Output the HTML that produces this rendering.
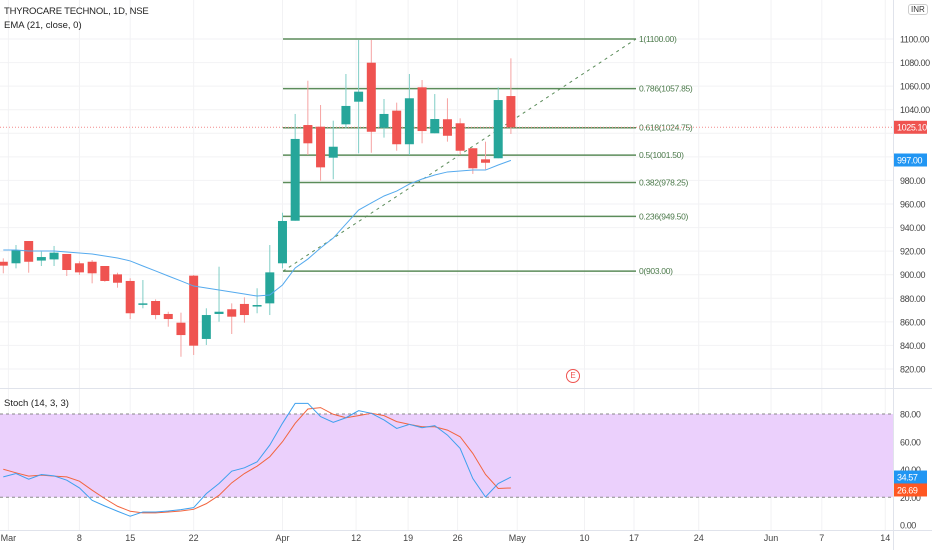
<!DOCTYPE html>
<html><head><meta charset="utf-8"><style>
body{margin:0;background:#fff;width:932px;height:550px;overflow:hidden;font-family:"Liberation Sans",sans-serif}
svg text{font-family:"Liberation Sans",sans-serif}
</style></head><body>
<svg id="c" width="932" height="550" xmlns="http://www.w3.org/2000/svg"></svg>
<script>
const opens=[911.0,909.7,928.6,912,913,917.6,909.7,911,907.4,900.3,894.7,874.5,877.7,866.7,859.3,899.2,845.5,866.7,870.7,875.2,873,875.7,909.7,945.8,1027.0,1025.6,999.3,1027.6,1046.8,1079.9,1024.7,1039.2,1010.7,1059.0,1020.0,1031.9,1028.5,1007.3,997.9,998.8,1051.6];
const closes=[907.7,921.0,911.0,915,918.7,904.0,902.0,901.2,894.7,893.2,867.3,875.7,865.8,862.4,848.8,839.8,865.8,868.6,864.4,865.8,874.3,902.0,945.6,1015.2,1011.5,991.1,1008.6,1043.2,1055.3,1021.3,1036.4,1010.7,1049.7,1021.9,1032.1,1017.9,1005.2,990.3,995.0,1048.2,1025.1];
const highs=[913.9,925.2,928.6,919.6,924.4,917.6,911.4,912.5,907.4,901.7,897.0,895.5,879.1,868.6,867.8,899.8,871.5,906.8,875.7,880.8,888.5,925.2,952.6,1036.4,1064.6,1044.0,1030.7,1070.3,1099.2,1099.2,1049.1,1046.0,1070.3,1065.2,1053.3,1049.7,1032.7,1007.3,1012.9,1059.0,1083.6];
const lows=[901.2,905.4,901.7,907.4,907.4,898.9,899.8,892.7,894.0,889.0,862.4,871.5,862.2,855.9,830.4,831.9,840.4,860.1,849.7,859.3,867.3,865.8,905.4,945.8,1001.6,979.8,981.0,1024.2,1003.0,1003.5,1016.3,1005.2,1001.6,1011.5,1020.0,1012.9,1001.6,985.5,989.4,998.8,1019.4];
const ema=[921,921,920.1,920.1,920.1,919.3,918.4,917.6,915.9,914.2,911.7,907.4,903.2,898.9,894.7,890.4,888.7,887.0,885.3,883.6,881.9,882.8,891.3,905.7,913.3,922.7,931.1,943.0,954.9,960.9,966.8,971.0,976.9,981.2,984.6,987.2,988.0,988.8,988.8,993.1,997.0];
const stochK=[34.7,37.1,33,36.4,35.4,32.3,26.7,17.8,13.7,9.9,6.3,9.4,9.4,10.1,11.1,12.5,22.6,29.9,38.8,41.2,45.5,57.6,73.3,87.7,87.7,78.1,74,77.3,82.4,80.5,75.7,69.6,72.5,70.1,71.6,64.8,55.2,33.5,20.2,29.9,34.57];
const stochD=[40.2,37.6,35.2,35.9,35.2,34.7,31.6,25.1,19.0,13.5,9.9,8.7,8.7,9.4,10.1,11.3,15.4,21.4,30.4,37.1,42.4,49.2,60,73.3,83.6,84.6,79.8,77.3,78.8,80.5,78.8,74.5,72.5,70.8,70.8,68.4,63.6,51.6,36.4,26.3,26.69];
const fibLevels=[1100,1057.85,1024.75,1001.5,978.25,949.5,903];
const fibNames=["1","0.786","0.618","0.5","0.382","0.236","0"];
const priceTicks=[820,840,860,880,900,920,940,960,980,1040,1060,1080,1100];
const stochTicks=[0,20,40,60,80];
const dateLabels=["Mar","8","15","22","Apr","12","19","26","May","10","17","24","Jun","7","14"];
const dateIdx=[0.4,6,10,15,22,27.8,31.9,35.8,40.5,45.8,49.7,54.8,60.5,64.5,69.5];

const NS="http://www.w3.org/2000/svg",svg=document.getElementById('c');
function el(t,a,p){const e=document.createElementNS(NS,t);for(const k in a)e.setAttribute(k,a[k]);(p||svg).appendChild(e);return e;}
const X=i=>3.3+i*12.69;
const Y=p=>39+(1100-p)*1.1786;
const SY=v=>525-v*1.3875;

dateIdx.forEach(d=>{const g=el('line',{x1:X(d),x2:X(d),y1:0,y2:530,stroke:'#f2f2f4'});
});
priceTicks.concat([1000,1020]).forEach(p=>{const g=el('line',{x1:0,x2:893,y1:Y(p),y2:Y(p),stroke:'#f2f2f4'});
});
const band=el('rect',{x:0,y:SY(80),width:893,height:SY(20)-SY(80),fill:'#ebd0fc'});

[80,20].forEach(v=>{const l=el('line',{x1:0,x2:893,y1:SY(v),y2:SY(v),stroke:'#888','stroke-dasharray':'3 3'});
});
el('line',{x1:0,x2:932,y1:388.5,y2:388.5,stroke:'#e0e3eb',});
el('line',{x1:893.5,x2:893.5,y1:0,y2:550,stroke:'#e0e3eb',});
el('line',{x1:0,x2:932,y1:530.5,y2:530.5,stroke:'#e0e3eb',});

fibLevels.forEach((f,k)=>{const l=el('line',{x1:283,x2:636,y1:Y(f),y2:Y(f),stroke:'#5b8c5a','stroke-width':1.5});

const t=el('text',{x:639,y:Y(f)+3,'font-size':8.5,fill:'#4c7a4b','letter-spacing':'-0.3'});t.textContent=fibNames[k]+'('+f.toFixed(2)+')';
});
el('line',{x1:283,y1:Y(903),x2:636,y2:Y(1100),stroke:'#5b8c5a','stroke-dasharray':'3 4',});
el('line',{x1:0,x2:893,y1:Y(1025.1),y2:Y(1025.1),stroke:'#f28b8b','stroke-dasharray':'1 2',});

opens.forEach((o,i)=>{const c=closes[i],up=c>=o,col=up?'#26a69a':'#ef5350',wc=up?'#7fcdc5':'#f5a3a2';
const w=el('line',{x1:X(i),x2:X(i),y1:Y(highs[i]),y2:Y(lows[i]),stroke:wc});

const t=Y(Math.max(o,c)),b=Y(Math.min(o,c));
const r=el('rect',{x:X(i)-4.5,y:t,width:9,height:Math.max(1.5,b-t),fill:col});
});
const ep=el('polyline',{points:ema.map((v,i)=>X(i)+','+Y(v)).join(' '),fill:'none',stroke:'#55aaee','stroke-width':1});

const dp=el('polyline',{points:stochD.map((v,i)=>X(i)+','+SY(v)).join(' '),fill:'none',stroke:'#f2653f','stroke-width':1});

const kp=el('polyline',{points:stochK.map((v,i)=>X(i)+','+SY(v)).join(' '),fill:'none',stroke:'#3ea0ee','stroke-width':1});


priceTicks.forEach(p=>{const t=el('text',{x:900,y:Y(p)+3.5,'font-size':9,fill:'#444','letter-spacing':'-0.4'});t.textContent=p.toFixed(2);
});
stochTicks.forEach(v=>{const t=el('text',{x:900,y:SY(v)+3.5,'font-size':9,fill:'#444','letter-spacing':'-0.4'});t.textContent=v.toFixed(2);
});
dateLabels.forEach((d,k)=>{const t=el('text',{x:X(dateIdx[k]),y:541,'font-size':9,fill:'#444','text-anchor':'middle'});t.textContent=d;
});
function tag(v,y,col,name){const g=el('g',{});
el('rect',{x:894,y:y-6.5,width:33,height:13,fill:col},g);
const t=el('text',{x:897,y:y+3.3,'font-size':9,fill:'#fff','letter-spacing':'-0.4'},g);t.textContent=v;}
tag(closes[closes.length-1].toFixed(2)+'0',Y(1025.1),'#ef5350','last-price-tag');
tag(ema[ema.length-1].toFixed(2),160,'#2196f3','ema-price-tag');
tag(stochK[stochK.length-1].toFixed(2),SY(34.57),'#2196f3','stoch-k-tag');
tag(stochD[stochD.length-1].toFixed(2),SY(26.69)+2,'#ff5722','stoch-d-tag');
</script>
<div style="position:absolute;left:4px;top:6px;font-size:9.5px;letter-spacing:-0.2px;color:#222">THYROCARE TECHNOL, 1D, NSE</div>
<div style="position:absolute;left:4px;top:20px;font-size:9.5px;color:#222">EMA (21, close, 0)</div>
<div style="position:absolute;left:4px;top:398px;font-size:9.5px;color:#222">Stoch (14, 3, 3)</div>
<div style="position:absolute;left:908px;top:4px;font-size:8px;color:#333;border:1px solid #ccc;border-radius:3px;padding:0 2px;background:#fff">INR</div>
<div style="position:absolute;left:566px;top:369px;width:12px;height:12px;border:1px solid #ef5350;border-radius:50%;font-size:8px;color:#ef5350;text-align:center;line-height:12px">E</div>
</body></html>
